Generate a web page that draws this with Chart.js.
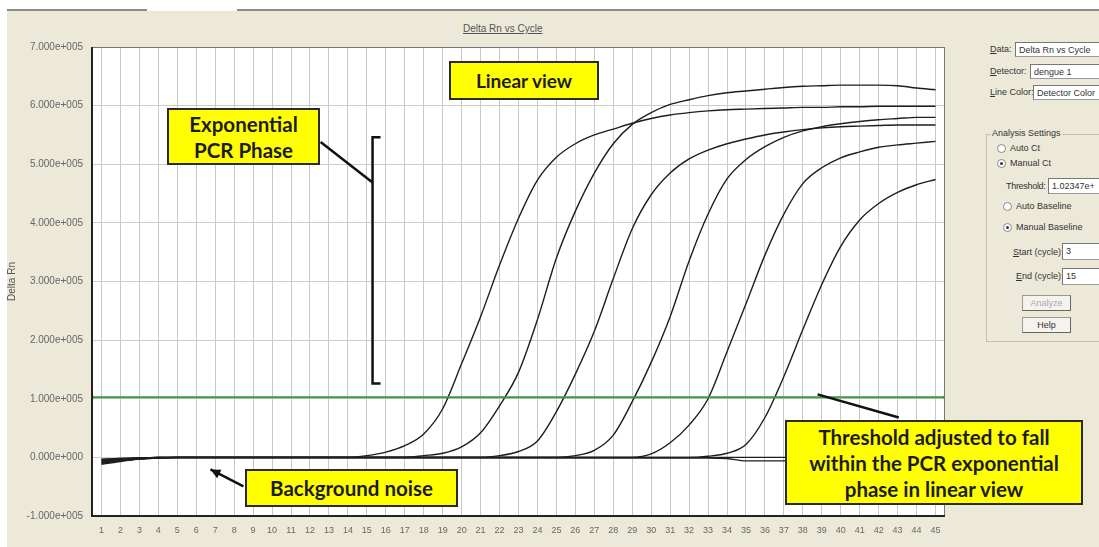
<!DOCTYPE html>
<html>
<head>
<meta charset="utf-8">
<script src="https://cdn.jsdelivr.net/npm/chart.js@4.4.0/dist/chart.umd.min.js"></script>
<style>
  html, body { margin: 0; padding: 0; background: #fff; }
  body { width: 1099px; height: 547px; position: relative; overflow: hidden; font-family: "Liberation Sans", Arial, sans-serif; }
  #frame { position: absolute; left: 7px; top: 11px; right: 0; bottom: 0; background: #ece9d8; }
  .topline { position: absolute; top: 9px; height: 2px; background: #8a8a84; }
  #wrap { position: absolute; left: 0; top: 0; width: 960px; height: 547px; }
  #title { position: absolute; left: 463px; top: 23px; font-size: 10px; color: #555; text-decoration: underline; }
  .note { position: absolute; background: #ffff00; border: 2px solid #2a2a2a; box-sizing: border-box;
          font-family: Lato, "Open Sans", sans-serif; font-weight: bold; color: #1c1c1c;
          text-align: center; font-size: 20.5px; line-height: 26px; display: flex; align-items: center; justify-content: center; }
  .ui { position: absolute; font-size: 9px; color: #333; white-space: nowrap; }
  .box { position: absolute; background: #fff; border: 1px solid #9a9a9a; border-top-color: #777; border-left-color: #777;
         font-size: 9px; color: #333; padding-left: 3px; box-sizing: border-box; white-space: nowrap; overflow: hidden; line-height: 14px; }
  .radio { position: absolute; width: 7px; height: 7px; border: 1px solid #888; border-radius: 50%; background: #fff; }
  .radio.on::after { content: ""; position: absolute; left: 2px; top: 2px; width: 3px; height: 3px; border-radius: 50%; background: #333; }
  .btn { position: absolute; border: 1px solid #999; border-right-color: #666; border-bottom-color: #666; background: #f4f3ee;
         font-size: 9px; text-align: center; box-sizing: border-box; line-height: 14px; color: #333; }
  #group { position: absolute; left: 986px; top: 134px; width: 120px; height: 206px; border: 1px solid #c4c1b0; }
</style>
</head>
<body>
<div class="topline" style="left:7px; width:140px;"></div>
<div class="topline" style="left:237px; width:862px;"></div>
<div id="frame"></div>
<div id="title">Delta Rn vs Cycle</div>
<div id="wrap"><canvas id="rnChart" width="960" height="547"></canvas></div>

<div class="note" style="left:167px; top:108px; width:153px; height:57px;">Exponential<br>PCR Phase</div>
<div class="note" style="left:449px; top:61px; width:150px; height:39px; font-size:19px;">Linear view</div>
<div class="note" style="left:245px; top:469px; width:213px; height:38px;">Background noise</div>
<div class="note" style="left:785px; top:420px; width:298px; height:85px;">Threshold adjusted to fall<br>within the PCR exponential<br>phase in linear view</div>

<!-- right-hand settings panel -->
<div class="ui" style="left:990px; top:44px;"><u>D</u>ata:</div>
<div class="box" style="left:1015px; top:42px; width:90px; height:15px;">Delta Rn vs Cycle</div>
<div class="ui" style="left:990px; top:66px;"><u>D</u>etector:</div>
<div class="box" style="left:1030px; top:64px; width:75px; height:15px;">dengue 1</div>
<div class="ui" style="left:990px; top:87px;"><u>L</u>ine Color:</div>
<div class="box" style="left:1033px; top:85px; width:72px; height:15px;">Detector Color</div>

<div id="group"></div>
<div class="ui" style="left:991px; top:128px; background:#ece9d8; padding:0 1px;">Analysis Settings</div>
<div class="radio" style="left:997px; top:144px;"></div>
<div class="ui" style="left:1010px; top:143px;">Auto Ct</div>
<div class="radio on" style="left:997px; top:159px;"></div>
<div class="ui" style="left:1010px; top:158px;">Manual Ct</div>
<div class="ui" style="left:1006px; top:181px; letter-spacing:-0.3px;">Threshold:</div>
<div class="box" style="left:1048px; top:178px; width:56px; height:16px;">1.02347e+</div>
<div class="radio" style="left:1003px; top:202px;"></div>
<div class="ui" style="left:1016px; top:201px;">Auto Baseline</div>
<div class="radio on" style="left:1003px; top:223px;"></div>
<div class="ui" style="left:1016px; top:222px;">Manual Baseline</div>
<div class="ui" style="left:1013px; top:247px;"><u>S</u>tart (cycle):</div>
<div class="box" style="left:1062px; top:243px; width:42px; height:17px;">3</div>
<div class="ui" style="left:1016px; top:271px;"><u>E</u>nd (cycle):</div>
<div class="box" style="left:1062px; top:268px; width:42px; height:17px;">15</div>
<div class="btn" style="left:1022px; top:295px; width:49px; height:16px; color:#aaa;">Analyze</div>
<div class="btn" style="left:1022px; top:317px; width:49px; height:16px;">Help</div>

<script>
// cycle numbers on the x axis
const cycles = Array.from({ length: 45 }, (_, i) => i + 1);

// Delta Rn values, in units of 1e+005
const rn1 = [-0.10, -0.06, -0.03, -0.01, 0, 0, 0, 0, 0, 0, 0, 0, 0, 0,
  0.03, 0.09, 0.20, 0.40, 0.83, 1.60, 2.40, 3.28, 4.08, 4.73, 5.12, 5.35, 5.50, 5.60, 5.70, 5.78,
  5.84, 5.88, 5.91, 5.93, 5.94, 5.95, 5.96, 5.97, 5.97, 5.98, 5.98, 5.99, 5.99, 5.99, 5.99];
const rn2 = [-0.08, -0.05, -0.02, -0.01, 0, 0, 0, 0, 0, 0, 0, 0, 0, 0, 0, 0, 0,
  0.03, 0.07, 0.18, 0.42, 0.88, 1.45, 2.35, 3.40, 4.20, 4.85, 5.35, 5.68, 5.88, 6.02,
  6.10, 6.17, 6.22, 6.25, 6.28, 6.31, 6.33, 6.34, 6.35, 6.35, 6.35, 6.34, 6.30, 6.27];
const rn3 = [-0.06, -0.04, -0.02, 0, 0, 0, 0, 0, 0, 0, 0, 0, 0, 0, 0, 0, 0, 0, 0, 0, 0,
  0.03, 0.10, 0.28, 0.78, 1.42, 2.15, 3.05, 3.90, 4.48, 4.85, 5.09, 5.24, 5.35, 5.43,
  5.50, 5.55, 5.59, 5.62, 5.64, 5.65, 5.66, 5.67, 5.67, 5.67];
const rn4 = [-0.05, -0.03, -0.01, 0, 0, 0, 0, 0, 0, 0, 0, 0, 0, 0, 0, 0, 0, 0, 0, 0, 0, 0, 0, 0, 0,
  0.03, 0.12, 0.38, 0.95, 1.62, 2.40, 3.35, 4.15, 4.75, 5.08, 5.30, 5.46, 5.57, 5.64,
  5.69, 5.73, 5.76, 5.78, 5.80, 5.80];
const rn5 = [-0.04, -0.02, -0.01, 0, 0, 0, 0, 0, 0, 0, 0, 0, 0, 0, 0, 0, 0, 0, 0, 0, 0, 0, 0, 0, 0, 0, 0, 0, 0,
  0.06, 0.25, 0.55, 1.00, 1.80, 2.62, 3.45, 4.15, 4.67, 4.94, 5.11, 5.21, 5.29, 5.33, 5.36, 5.39];
const rn6 = [-0.03, -0.02, -0.01, 0, 0, 0, 0, 0, 0, 0, 0, 0, 0, 0, 0, 0, 0, 0, 0, 0, 0, 0, 0, 0, 0, 0, 0, 0, 0, 0, 0, 0,
  0.02, 0.07, 0.22, 0.68, 1.38, 2.18, 2.95, 3.60, 4.05, 4.33, 4.52, 4.65, 4.74];
// wells that never amplify
const ntc1 = [-0.12, -0.07, -0.03, -0.01, 0, 0, 0, 0, 0, 0, 0, 0, 0, 0, 0, 0, 0, 0, 0, 0, 0, 0, 0,
  0, 0, 0, 0, 0, 0, 0, 0, 0, 0, 0, 0, 0, 0, 0, 0, 0, 0, 0, 0, 0, 0];
const ntc2 = [-0.09, -0.05, -0.02, -0.01, -0.01, -0.01, -0.01, -0.01, -0.01, -0.01, -0.01, -0.01, -0.01,
  -0.01, -0.01, -0.01, -0.01, -0.01, -0.01, -0.01, -0.01, -0.01, -0.01, -0.01, -0.01, -0.01, -0.01,
  -0.01, -0.01, -0.01, -0.01, -0.01, -0.01, -0.02, -0.06, -0.06, -0.06, -0.06, -0.06, -0.06, -0.06,
  -0.06, -0.06, -0.06, -0.06];

const threshold = 1.02347;
const yTicks = [-1, 0, 1, 2, 3, 4, 5, 6, 7];

// callout geometry in data coordinates [cycle, Delta Rn]
const bracket = { cycle: 15.3, from: 1.26, to: 5.46 };
const expLink = [[12.56, 5.38], [15.3, 4.69]];
const noiseArrow = [[8.49, -0.495], [6.75, -0.205]];
const threshLink = [[38.78, 1.075], [43.06, 0.68]];

function sci(v) {
  const val = v * 1e5;
  if (val === 0) return '0.000e+000';
  const exp = Math.floor(Math.log10(Math.abs(val)));
  const mant = val / Math.pow(10, exp);
  return mant.toFixed(3) + 'e' + (exp < 0 ? '-' : '+') + String(Math.abs(exp)).padStart(3, '0');
}

const toPts = arr => arr.map((v, i) => ({ x: cycles[i], y: v }));
const curve = arr => ({
  data: toPts(arr), borderColor: '#1e1e1e', borderWidth: 1.4,
  pointRadius: 0, cubicInterpolationMode: 'monotone', fill: false
});

const plotBg = {
  id: 'plotBg',
  beforeDraw(chart) {
    const { ctx, chartArea: a } = chart;
    ctx.save();
    ctx.fillStyle = '#ffffff';
    ctx.fillRect(a.left, a.top, a.right - a.left, a.bottom - a.top);
    ctx.restore();
  },
  afterDraw(chart) {
    const { ctx, chartArea: a, scales: { x, y } } = chart;
    ctx.save();
    // frame
    ctx.strokeStyle = '#777';
    ctx.lineWidth = 1;
    ctx.strokeRect(a.left + 0.5, a.top + 0.5, a.right - a.left - 1, a.bottom - a.top - 1);
    ctx.strokeStyle = '#222';
    ctx.lineWidth = 2;
    ctx.beginPath();
    ctx.moveTo(a.left, a.top); ctx.lineTo(a.left, a.bottom); ctx.lineTo(a.right, a.bottom);
    ctx.stroke();

    // callouts
    ctx.strokeStyle = '#111';
    ctx.lineWidth = 2.5;
    const P = p => [x.getPixelForValue(p[0]), y.getPixelForValue(p[1])];
    const seg = (p, q) => {
      const a1 = P(p), b1 = P(q);
      ctx.beginPath(); ctx.moveTo(a1[0], a1[1]); ctx.lineTo(b1[0], b1[1]); ctx.stroke();
      return [a1, b1];
    };
    const bx = x.getPixelForValue(bracket.cycle);
    const by1 = y.getPixelForValue(bracket.to), by2 = y.getPixelForValue(bracket.from);
    ctx.beginPath();
    ctx.moveTo(bx + 8, by1); ctx.lineTo(bx, by1); ctx.lineTo(bx, by2); ctx.lineTo(bx + 8, by2);
    ctx.stroke();
    seg(expLink[0], expLink[1]);
    seg(threshLink[0], threshLink[1]);
    const [t, h] = seg(noiseArrow[0], noiseArrow[1]);
    const ang = Math.atan2(h[1] - t[1], h[0] - t[0]);
    ctx.fillStyle = '#111';
    ctx.beginPath();
    ctx.moveTo(h[0], h[1]);
    ctx.lineTo(h[0] - 11 * Math.cos(ang - 0.45), h[1] - 11 * Math.sin(ang - 0.45));
    ctx.lineTo(h[0] - 11 * Math.cos(ang + 0.45), h[1] - 11 * Math.sin(ang + 0.45));
    ctx.closePath();
    ctx.fill();
    ctx.restore();
  }
};

new Chart(document.getElementById('rnChart'), {
  type: 'line',
  data: {
    datasets: [
      {
        data: [{ x: 0.5, y: threshold }, { x: 45.5, y: threshold }],
        borderColor: '#3c9a3c', borderWidth: 2, pointRadius: 2,
        pointBackgroundColor: '#3c9a3c', pointBorderWidth: 0
      },
      curve(ntc1), curve(ntc2),
      curve(rn1), curve(rn2), curve(rn3), curve(rn4), curve(rn5), curve(rn6)
    ]
  },
  options: {
    responsive: false,
    animation: false,
    events: [],
    layout: { padding: { top: 47, right: 15, left: 0, bottom: 0 } },
    plugins: { legend: { display: false }, tooltip: { enabled: false } },
    scales: {
      x: {
        type: 'linear', min: 0.5, max: 45.5,
        afterBuildTicks: axis => { axis.ticks = cycles.map(c => ({ value: c })); },
        afterFit: axis => { axis.height = 31; },
        grid: { color: '#c8c8c8', drawTicks: false },
        border: { display: false },
        ticks: { autoSkip: false, maxRotation: 0, padding: 9, color: '#666',
                 font: { family: 'Liberation Sans', size: 9 } }
      },
      y: {
        min: -1, max: 7,
        afterBuildTicks: axis => { axis.ticks = yTicks.map(v => ({ value: v })); },
        afterFit: axis => { axis.width = 92; },
        grid: { color: '#cccccc', drawTicks: false },
        border: { display: false },
        title: { display: true, text: 'Delta Rn', color: '#555', padding: { top: 6, bottom: 0 },
                 font: { family: 'Liberation Sans', size: 10 } },
        ticks: { padding: 9, color: '#666', callback: v => sci(v),
                 font: { family: 'Liberation Sans', size: 10 } }
      }
    }
  },
  plugins: [plotBg]
});
</script>
</body>
</html>
